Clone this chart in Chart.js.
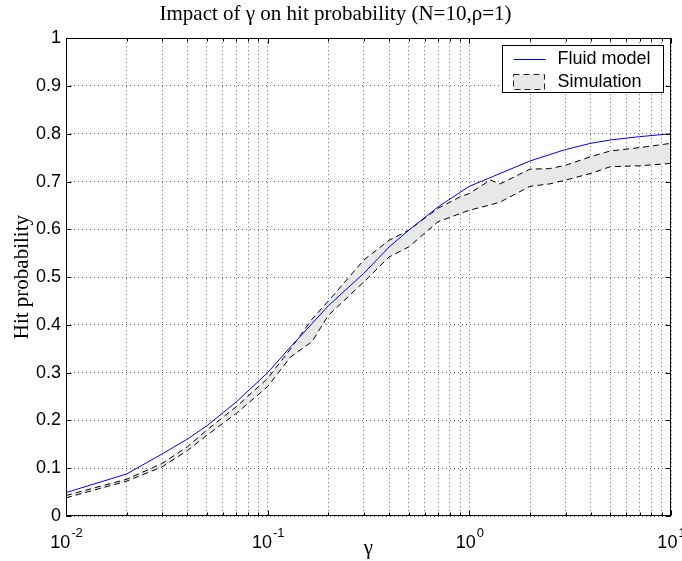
<!DOCTYPE html>
<html>
<head>
<meta charset="utf-8">
<script src="https://cdn.jsdelivr.net/npm/chart.js@4.4.0/dist/chart.umd.min.js"></script>
<style>
  html, body { margin: 0; padding: 0; background: #fff; }
</style>
</head>
<body>
<canvas id="hitChart" width="682" height="561"></canvas>
<script>
// --------------------------------------------------- DATA
const fluidGamma = [0.01, 0.02, 0.03, 0.04, 0.05, 0.07, 0.1, 0.13, 0.2, 0.3, 0.4, 0.5, 0.7, 1, 2, 3, 4, 5, 7, 10]
const fluidHit = [0.049, 0.088, 0.130, 0.161, 0.189, 0.239, 0.300, 0.354, 0.440, 0.508, 0.563, 0.598, 0.647, 0.690, 0.743, 0.767, 0.780, 0.787, 0.794, 0.800]

const simGamma = [0.01, 0.02, 0.03, 0.04, 0.05, 0.07, 0.1, 0.13, 0.166, 0.2, 0.3, 0.4, 0.5, 0.7, 0.9, 1, 1.27, 1.42, 2, 2.5, 3, 4, 5, 7, 10]
const simUpper = [0.043, 0.077, 0.110, 0.145, 0.180, 0.229, 0.288, 0.350, 0.412, 0.450, 0.536, 0.577, 0.598, 0.644, 0.668, 0.675, 0.703, 0.695, 0.726, 0.727, 0.734, 0.752, 0.764, 0.771, 0.780]
const simLower = [0.038, 0.073, 0.103, 0.137, 0.169, 0.215, 0.271, 0.333, 0.365, 0.420, 0.490, 0.542, 0.563, 0.616, 0.633, 0.640, 0.651, 0.657, 0.690, 0.695, 0.703, 0.717, 0.731, 0.733, 0.738]

const xDecades = [0.01, 0.1, 1, 10]
const xDecadeExponents = ['-2', '-1', '0', '1']
const xMantissas = [1, 2, 3, 4, 5, 6, 7, 8, 9]
const yTickValues = [0, 0.1, 0.2, 0.3, 0.4, 0.5, 0.6, 0.7, 0.8, 0.9, 1]
const yTickLabels = ['0', '0.1', '0.2', '0.3', '0.4', '0.5', '0.6', '0.7', '0.8', '0.9', '1']
const legendLabels = ['Fluid model', 'Simulation']

// --------------------------------------------------- HELPERS
const toPoints = (xs, ys) => xs.map((x, i) => ({ x: x, y: ys[i] }))

const xGridValues = []
xDecades.forEach((d, i) => {
  if (i === xDecades.length - 1) { xGridValues.push(d); return }
  xMantissas.forEach(m => xGridValues.push(+(d * m).toPrecision(3)))
})

const isDecade = v => Math.abs(Math.log10(v) - Math.round(Math.log10(v))) < 1e-6
const sansFont = '"Liberation Sans", Arial, sans-serif'
const serifFont = '"Liberation Serif", "Times New Roman", serif'

// --------------------------------------------------- PLUGINS
const axesBox = {
  id: 'axesBox',
  afterDatasetsDraw(chart) {
    const { ctx, chartArea: a, scales } = chart
    const l = Math.round(a.left) + 0.5, r = Math.round(a.right) - 0.5
    const t = Math.round(a.top) + 0.5, b = Math.round(a.bottom) - 0.5
    ctx.save()
    ctx.strokeStyle = '#000'
    ctx.lineWidth = 1
    ctx.beginPath()
    yTickValues.forEach(v => {
      const y = Math.round(scales.y.getPixelForValue(v)) + 0.5
      ctx.moveTo(l, y); ctx.lineTo(l + 5, y)
      ctx.moveTo(r, y); ctx.lineTo(r - 5, y)
    })
    xGridValues.forEach(v => {
      const x = Math.round(scales.x.getPixelForValue(v)) + 0.5
      const len = isDecade(v) ? 5 : 3
      ctx.moveTo(x, b); ctx.lineTo(x, b - len)
      ctx.moveTo(x, t); ctx.lineTo(x, t + len)
    })
    ctx.stroke()
    ctx.strokeRect(l, t, r - l, b - t)
    ctx.restore()
  }
}

// decade labels as 10 with a raised exponent
const powerLabels = {
  id: 'powerLabels',
  afterDraw(chart) {
    const { ctx, chartArea: a, scales } = chart
    ctx.save()
    ctx.fillStyle = '#000'
    ctx.textBaseline = 'alphabetic'
    ctx.textAlign = 'left'
    xDecades.forEach((d, i) => {
      const x = scales.x.getPixelForValue(d)
      ctx.font = '18px ' + sansFont
      const wBase = ctx.measureText('10').width
      ctx.font = '13px ' + sansFont
      const wExp = ctx.measureText(xDecadeExponents[i]).width
      const x0 = x - (wBase + wExp) / 2
      ctx.font = '18px ' + sansFont
      ctx.fillText('10', x0, a.bottom + 32)
      ctx.font = '13px ' + sansFont
      ctx.fillText(xDecadeExponents[i], x0 + wBase + 1, a.bottom + 21)
    })
    ctx.restore()
  }
}

const boxLegend = {
  id: 'boxLegend',
  afterDraw(chart) {
    const { ctx, chartArea: a } = chart
    const bx = Math.round(a.right) - 168.5, by = Math.round(a.top) + 7.5
    const bw = 161, bh = 47
    ctx.save()
    ctx.fillStyle = '#fff'
    ctx.fillRect(bx, by, bw, bh)
    ctx.strokeStyle = '#000'
    ctx.lineWidth = 1
    ctx.strokeRect(bx, by, bw, bh)

    ctx.strokeStyle = '#0000ff'
    ctx.beginPath()
    ctx.moveTo(bx + 11, by + 14)
    ctx.lineTo(bx + 43, by + 14)
    ctx.stroke()

    ctx.fillStyle = 'rgb(232,232,232)'
    ctx.fillRect(bx + 11, by + 29, 31, 15)
    ctx.strokeStyle = '#222'
    ctx.setLineDash([6, 4])
    ctx.strokeRect(bx + 11, by + 29, 31, 15)
    ctx.setLineDash([])

    ctx.fillStyle = '#000'
    ctx.font = '18px ' + sansFont
    ctx.textBaseline = 'middle'
    ctx.fillText(legendLabels[0], bx + 55, by + 14)
    ctx.fillText(legendLabels[1], bx + 55, by + 36.5)
    ctx.restore()
  }
}

// --------------------------------------------------- CHART
const hitChart = new Chart(document.getElementById('hitChart'), {
  type: 'line',
  data: {
    datasets: [{
      label: legendLabels[0],
      data: toPoints(fluidGamma, fluidHit),
      borderColor: '#0000ff',
      borderWidth: 1,
      pointRadius: 0,
      fill: false
    }, {
      label: legendLabels[1],
      data: toPoints(simGamma, simUpper),
      borderColor: '#000',
      borderWidth: 1,
      borderDash: [6, 4],
      pointRadius: 0,
      fill: '+1',
      backgroundColor: 'rgb(232,232,232)'
    }, {
      label: legendLabels[1] + ' (lower)',
      data: toPoints(simGamma, simLower),
      borderColor: '#000',
      borderWidth: 1,
      borderDash: [6, 4],
      pointRadius: 0,
      fill: false
    }]
  },
  options: {
    responsive: false,
    animation: false,
    layout: { padding: { left: 0, right: 11, top: 0, bottom: 0 } },
    plugins: {
      legend: { display: false },
      tooltip: { enabled: false },
      filler: { drawTime: 'beforeDatasetsDraw' },
      title: {
        display: true,
        text: 'Impact of γ on hit probability (N=10,ρ=1)',
        color: '#000',
        font: { family: serifFont, size: 21, weight: 'normal', lineHeight: 1.2 },
        padding: { top: 2, bottom: 11 }
      }
    },
    scales: {
      x: {
        type: 'logarithmic',
        min: 0.01,
        max: 10,
        afterBuildTicks: scale => {
          scale.ticks = xGridValues.map(v => ({ value: v, major: isDecade(v) }))
        },
        afterFit: scale => {
          scale.height = 45
          scale.paddingLeft = 0
          scale.paddingRight = 0
        },
        ticks: { display: false, autoSkip: false },
        grid: { color: 'rgba(0,0,0,0.6)', lineWidth: 1, drawTicks: false },
        border: { display: false, dash: [1, 3] },
        title: {
          display: true,
          text: 'γ',
          color: '#000',
          font: { family: serifFont, size: 21, lineHeight: 1.2 },
          padding: { top: 0, bottom: 0 }
        }
      },
      y: {
        min: 0,
        max: 1,
        afterBuildTicks: scale => {
          scale.ticks = yTickValues.map(v => ({ value: v }))
        },
        afterFit: scale => { scale.width = 66 },
        ticks: {
          padding: 5,
          color: '#000',
          font: { family: sansFont, size: 18 },
          callback: (value, index) => yTickLabels[index]
        },
        grid: { color: 'rgba(0,0,0,0.6)', lineWidth: 1, drawTicks: false },
        border: { display: false, dash: [1, 3] },
        title: {
          display: true,
          text: 'Hit probability',
          color: '#000',
          font: { family: serifFont, size: 21, lineHeight: 1.2 },
          padding: { top: 10, bottom: 0 }
        }
      }
    }
  },
  plugins: [axesBox, powerLabels, boxLegend]
})
</script>
</body>
</html>
